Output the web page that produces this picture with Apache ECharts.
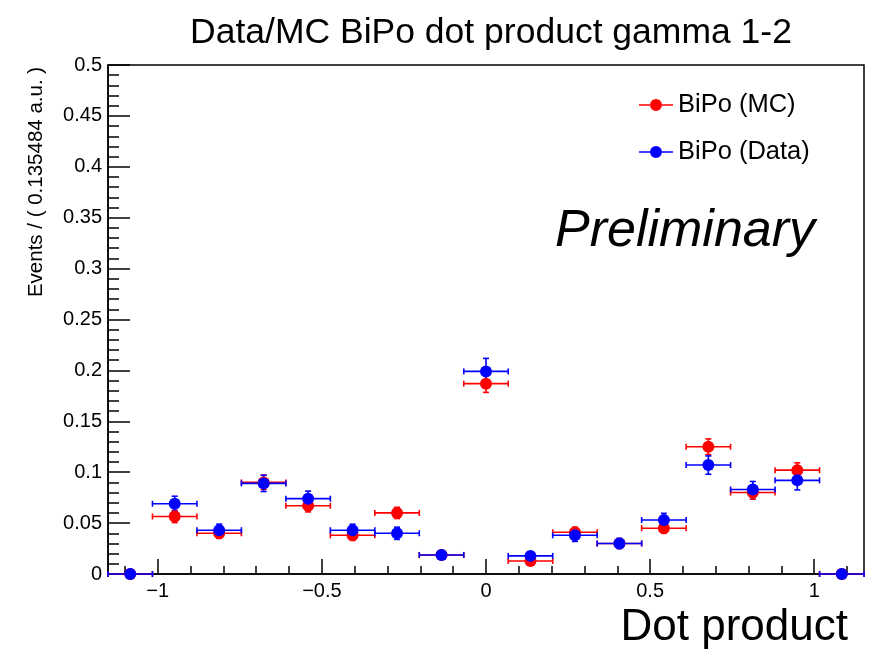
<!DOCTYPE html>
<html>
<head>
<meta charset="utf-8">
<script src="https://cdn.jsdelivr.net/npm/echarts@6/dist/echarts.min.js"></script>
<style>html,body{margin:0;padding:0;background:#fff;}#c{width:878px;height:657px;}</style>
</head>
<body>
<div id="c"></div>
<script>
// ---- data ----
const binWidth = 0.135484;
const binCenters = [-1.0839, -0.9484, -0.8129, -0.6774, -0.5419, -0.4065, -0.2710, -0.1355, 0.0, 0.1355, 0.2710, 0.4065, 0.5419, 0.6774, 0.8129, 0.9484, 1.0839];
const mcValues   = [0, 0.0565, 0.040, 0.090, 0.067, 0.038, 0.060, 0.0187, 0.187, 0.0128, 0.041, 0.030, 0.045, 0.125, 0.080, 0.102, 0];
const mcErrors   = [0, 0.006, 0.005, 0.007, 0.006, 0.005, 0.0055, 0.003, 0.0086, 0.003, 0.005, 0.004, 0.005, 0.0077, 0.0065, 0.0072, 0];
const dataValues = [0, 0.069, 0.043, 0.089, 0.074, 0.043, 0.040, 0.0187, 0.199, 0.0178, 0.038, 0.030, 0.053, 0.107, 0.083, 0.092, 0];
const dataErrors = [0, 0.0074, 0.006, 0.008, 0.0074, 0.0059, 0.006, 0.004, 0.0128, 0.004, 0.006, 0.005, 0.0066, 0.009, 0.0079, 0.0094, 0];
const xMajorTicks = [-1, -0.5, 0, 0.5, 1];
const xMinorTicks = [-1.1, -1.0, -0.9, -0.8, -0.7, -0.6, -0.5, -0.4, -0.3, -0.2, -0.1, 0, 0.1, 0.2, 0.3, 0.4, 0.5, 0.6, 0.7, 0.8, 0.9, 1.0, 1.1];
const seriesNames = ['BiPo (MC)', 'BiPo (Data)'];
const titleText = 'Data/MC BiPo dot product gamma 1-2';
const xTitle = 'Dot product';
const yTitle = 'Events / ( 0.135484 a.u. )';
const watermark = 'Preliminary';

// ---- chart ----
const FONT = 'Liberation Sans, Arial, Helvetica, sans-serif';
const xMin = -1.151614, xMax = 1.151614;
const half = binWidth / 2;

function errRender(color) {
  return function (params, api) {
    const x = api.value(0), y = api.value(1), e = api.value(2);
    const pL = api.coord([x - half, y]), pR = api.coord([x + half, y]);
    const cap = 3;
    const st = { stroke: color, lineWidth: 1.6 };
    const ch = [
      { type: 'line', shape: { x1: pL[0], y1: pL[1], x2: pR[0], y2: pR[1] }, style: st },
      { type: 'line', shape: { x1: pL[0], y1: pL[1] - cap, x2: pL[0], y2: pL[1] + cap }, style: st },
      { type: 'line', shape: { x1: pR[0], y1: pR[1] - cap, x2: pR[0], y2: pR[1] + cap }, style: st }
    ];
    if (e > 0) {
      const pT = api.coord([x, y + e]), pB = api.coord([x, y - e]);
      ch.push({ type: 'line', shape: { x1: pT[0], y1: pT[1], x2: pB[0], y2: pB[1] }, style: st });
      ch.push({ type: 'line', shape: { x1: pT[0] - cap, y1: pT[1], x2: pT[0] + cap, y2: pT[1] }, style: st });
      ch.push({ type: 'line', shape: { x1: pB[0] - cap, y1: pB[1], x2: pB[0] + cap, y2: pB[1] }, style: st });
    }
    return { type: 'group', children: ch };
  };
}

const legendIcon = 'path://M0,5.25 L11,5.25 L11,6.75 L0,6.75 Z M23,5.25 L34,5.25 L34,6.75 L23,6.75 Z M11,6 A6,6 0 1,1 23,6 A6,6 0 1,1 11,6 Z';

const fmt = v => String(+v.toFixed(2)).replace('-', '\u2212');

const chart = echarts.init(document.getElementById('c'), null, { renderer: 'canvas' });
chart.setOption({
  animation: false,
  backgroundColor: '#fff',
  textStyle: { fontFamily: FONT },
  title: {
    text: titleText, left: 486, top: 10, textAlign: 'center',
    textStyle: { fontFamily: FONT, fontSize: 35.5, fontWeight: 'normal', color: '#000' }
  },
  grid: { left: 108, right: 14, top: 65, bottom: 83, show: true, borderColor: '#000', borderWidth: 1.5, containLabel: false },
  legend: {
    orient: 'vertical', left: 634, top: 87, itemWidth: 34, itemHeight: 12, itemGap: 21,
    icon: legendIcon,
    data: seriesNames,
    textStyle: { fontFamily: FONT, fontSize: 25.5, color: '#000', lineHeight: 26, padding: [0, 0, 0, 0] },
    selectedMode: false
  },
  xAxis: [{
    type: 'value', min: xMin, max: xMax, position: 'bottom',
    axisLine: { show: true, onZero: false, lineStyle: { color: '#000', width: 1.5 } },
    axisTick: { show: true, inside: true, length: 15, customValues: xMajorTicks, lineStyle: { color: '#000', width: 1.5 } },
    axisLabel: { show: true, customValues: xMajorTicks, formatter: fmt, fontFamily: FONT, fontSize: 20, color: '#000', margin: 7 },
    splitLine: { show: false },
    name: xTitle, nameLocation: 'end', nameGap: -16,
    nameTextStyle: { fontFamily: FONT, fontSize: 44, color: '#000', align: 'right', verticalAlign: 'top', padding: [32, 0, 0, 0] }
  }, {
    type: 'value', min: xMin, max: xMax, position: 'bottom',
    axisLine: { show: false },
    axisTick: { show: true, inside: true, length: 8, customValues: xMinorTicks, lineStyle: { color: '#000', width: 1.5 } },
    axisLabel: { show: false },
    splitLine: { show: false }
  }],
  yAxis: {
    type: 'value', min: 0, max: 0.5, interval: 0.05,
    axisLine: { show: true, onZero: false, lineStyle: { color: '#000', width: 1.5 } },
    axisTick: { show: true, inside: true, length: 22, lineStyle: { color: '#000', width: 1.5 } },
    minorTick: { show: true, splitNumber: 5, length: 11, lineStyle: { color: '#000', width: 1.5 } },
    axisLabel: { formatter: fmt, fontFamily: FONT, fontSize: 20, color: '#000', margin: 6 },
    splitLine: { show: false }, minorSplitLine: { show: false }
  },
  graphic: [
    { type: 'text', left: 555, top: 206, z: 10,
      style: { text: watermark, font: 'italic 52px ' + FONT, fill: '#000' } },
    { type: 'text', x: 36, y: 182, rotation: Math.PI / 2, z: 10,
      style: { text: yTitle, font: '20.5px ' + FONT, fill: '#000', align: 'center', verticalAlign: 'middle' } }
  ],
  series: [
    { type: 'custom', name: 'mc-err', xAxisIndex: 0, renderItem: errRender('#ff0000'), clip: false,
      data: binCenters.map((c, i) => [c, mcValues[i], mcErrors[i]]), silent: true },
    { type: 'scatter', name: seriesNames[0], xAxisIndex: 0, symbol: 'circle', symbolSize: 12,
      itemStyle: { color: '#ff0000', opacity: 1 }, data: binCenters.map((c, i) => [c, mcValues[i]]) },
    { type: 'custom', name: 'data-err', xAxisIndex: 0, renderItem: errRender('#0000ff'), clip: false,
      data: binCenters.map((c, i) => [c, dataValues[i], dataErrors[i]]), silent: true },
    { type: 'scatter', name: seriesNames[1], xAxisIndex: 0, symbol: 'circle', symbolSize: 12,
      itemStyle: { color: '#0000ff', opacity: 1 }, data: binCenters.map((c, i) => [c, dataValues[i]]) }
  ]
});
</script>
</body>
</html>
